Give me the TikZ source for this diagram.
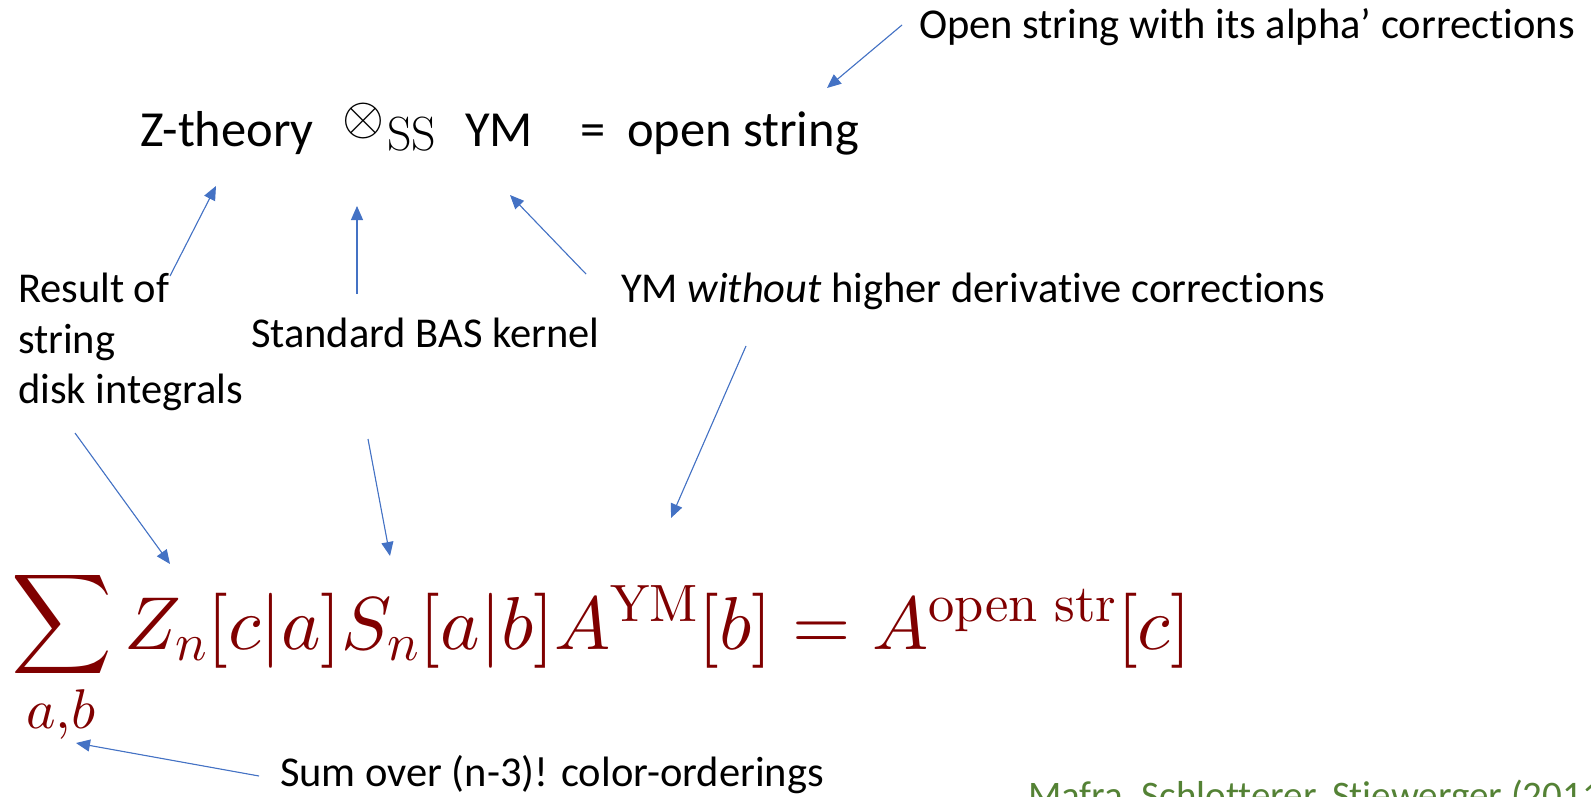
\documentclass[tikz,border=0pt]{standalone}
\usepackage[no-math]{fontspec}
\setmainfont{Carlito}[Ligatures={NoCommon}]
\newfontfamily\lmroman{Latin Modern Roman}
\DeclareFontShape{OMS}{cmsy}{m}{n}{<->cmsy10}{}
\DeclareFontShape{OMX}{cmex}{m}{n}{<->cmex10}{}
\DeclareFontShape{OML}{cmm}{m}{it}{<->cmmi10}{}
\DeclareFontShape{OT1}{cmr}{m}{n}{<->cmr10}{}
\usetikzlibrary{arrows.meta}
\definecolor{arrowblue}{RGB}{68,114,196}
\definecolor{formulared}{RGB}{128,0,0}
\definecolor{citegreen}{RGB}{84,130,53}
\tikzset{
  txt/.style={anchor=base west, inner sep=0pt, outer sep=0pt, font=\fontsize{42.5}{50.5}\selectfont},
  bigtxt/.style={anchor=base west, inner sep=0pt, outer sep=0pt, font=\fontsize{50.5}{60}\selectfont},
  mathred/.style={inner sep=0pt, outer sep=0pt, text=formulared},
  pointer/.style={draw=arrowblue, line width=1.1pt, -{Triangle[length=14pt,width=12pt]}, fill=arrowblue},
}
\begin{document}
\begin{tikzpicture}[x=1pt,y=-1pt]
\useasboundingbox (0,0) rectangle (1591,797);
\begin{scope}
\clip (0,0) rectangle (1591,797);
% top equation
\node[bigtxt] (zth) at (140,147) {Z-theory};
\node[inner sep=0pt, scale=1.42, font=\fontsize{38}{46}\selectfont] (otimes) at (363,121) {$\otimes$};
\node[anchor=base west, inner sep=0pt, font=\lmroman\fontsize{48}{56}\selectfont] (ss) at (387,150) {SS};
\node[bigtxt] (ym) at (465,147) {YM};
\node[bigtxt] (eq) at (580,147) {=};
\node[bigtxt] (os) at (627,147) {open string};
% labels
\node[txt] (alpha) at (919,39) {Open string with its alpha’ corrections};
\node[txt, align=left, anchor=north west] (result) at (18,273) {Result of\\string\\disk integrals};
\node[txt] (bas) at (251,347) {Standard BAS kernel};
\node[txt] (ymw) at (621,302) {YM \textit{without} higher derivative corrections};
\node[txt] (sum) at (280,786) {Sum over (n-3)! color-orderings};
\node[txt, text=citegreen, font=\fontsize{39}{46}\selectfont] (cite) at (1028,808) {Mafra, Schlotterer, Stiewerger (2011)};
% formula
\node[mathred, anchor=west, font=\fontsize{70}{84}\selectfont] (sigma) at (12,624) {$\displaystyle\sum$};
\node[mathred, anchor=base, font=\fontsize{56}{66}\selectfont] (limits) at (61,728) {$a{,}b$};
\node[mathred, anchor=base west, font=\fontsize{75}{90}\selectfont] (formula) at (124,649)
  {$Z_n[c|a]S_n[a|b]A^{\mathrm{YM}}[b]=A^{\mathrm{open\ str}}[c]$};
% arrow endpoints
\coordinate (a1s) at (902,25);
\coordinate (a1e) at (827,88);
\coordinate (a2s) at (170,276);
\coordinate (a2e) at (216,186);
\coordinate (a3s) at (357,294);
\coordinate (a3e) at (357,206);
\coordinate (a4s) at (586,274);
\coordinate (a4e) at (510,195);
\coordinate (a5s) at (75,433);
\coordinate (a5e) at (170,564);
\coordinate (a6s) at (368,439);
\coordinate (a6e) at (390,556);
\coordinate (a7s) at (746,346);
\coordinate (a7e) at (671,518);
\coordinate (a8s) at (259,776);
\coordinate (a8e) at (76,743);
\draw[pointer] (a1s) -- (a1e);
\draw[pointer] (a2s) -- (a2e);
\draw[pointer] (a3s) -- (a3e);
\draw[pointer] (a4s) -- (a4e);
\draw[pointer] (a5s) -- (a5e);
\draw[pointer] (a6s) -- (a6e);
\draw[pointer] (a7s) -- (a7e);
\draw[pointer] (a8s) -- (a8e);
\end{scope}
\end{tikzpicture}
\end{document}
